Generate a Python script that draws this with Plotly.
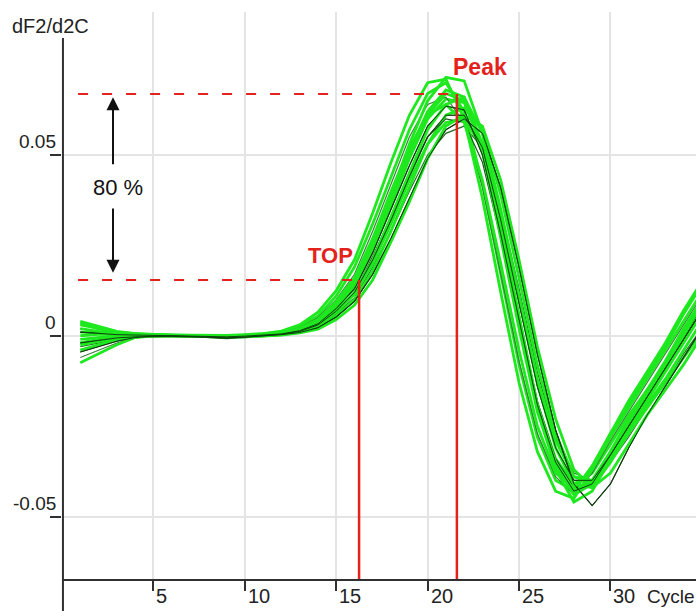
import plotly.graph_objects as go

cycles = list(range(1, 36))

bright_curves = [
    [0.001, 0.0008, 0.0005, 0.0003, 0.0002, 0.0001, 0.0, 0.0, -0.0002, 0.0, 0.0002, 0.0006, 0.0015, 0.0035, 0.008, 0.0135, 0.024, 0.036, 0.049, 0.060, 0.0655, 0.0645, 0.052, 0.029, 0.005, -0.019, -0.034, -0.041, -0.038, -0.030, -0.022, -0.015, -0.008, 0.000, 0.008],
    [0.003, 0.002, 0.001, 0.0005, 0.0003, 0.0002, 0.0001, 0.0, 0.0, 0.0002, 0.0005, 0.001, 0.0025, 0.0055, 0.011, 0.019, 0.031, 0.044, 0.057, 0.067, 0.070, 0.062, 0.042, 0.017, -0.008, -0.028, -0.040, -0.043, -0.036, -0.027, -0.019, -0.011, -0.003, 0.006, 0.014],
    [-0.002, -0.001, -0.0003, 0.0, 0.0001, 0.0, -0.0001, -0.0002, -0.0003, -0.0002, 0.0, 0.0003, 0.001, 0.0022, 0.0055, 0.010, 0.018, 0.029, 0.041, 0.053, 0.061, 0.063, 0.057, 0.039, 0.016, -0.008, -0.027, -0.039, -0.041, -0.035, -0.027, -0.019, -0.012, -0.004, 0.004],
    [-0.0075, -0.005, -0.0025, -0.0005, 0.0, 0.0, -0.0002, -0.0002, -0.0004, -0.0002, 0.0001, 0.0004, 0.0012, 0.0028, 0.0065, 0.0115, 0.020, 0.031, 0.043, 0.053, 0.059, 0.060, 0.052, 0.033, 0.011, -0.012, -0.029, -0.039, -0.040, -0.034, -0.027, -0.020, -0.013, -0.006, 0.001],
    [0.002, 0.0012, 0.0007, 0.0004, 0.0002, 0.0001, 0.0, 0.0001, 0.0, 0.0001, 0.0003, 0.0007, 0.0018, 0.004, 0.0088, 0.0148, 0.026, 0.038, 0.051, 0.062, 0.068, 0.066, 0.053, 0.030, 0.005, -0.019, -0.035, -0.043, -0.040, -0.032, -0.023, -0.015, -0.007, 0.002, 0.010],
    [0.0035, 0.002, 0.001, 0.0005, 0.0002, 0.0001, 0.0, 0.0, -0.0001, 0.0001, 0.0004, 0.0008, 0.002, 0.0045, 0.0095, 0.016, 0.027, 0.040, 0.052, 0.061, 0.064, 0.059, 0.043, 0.020, -0.004, -0.025, -0.038, -0.042, -0.037, -0.028, -0.020, -0.012, -0.004, 0.004, 0.012],
    [-0.001, -0.0005, 0.0, 0.0002, 0.0002, 0.0001, 0.0, -0.0001, -0.0002, -0.0001, 0.0001, 0.0005, 0.0012, 0.003, 0.007, 0.012, 0.021, 0.033, 0.045, 0.057, 0.064, 0.066, 0.056, 0.035, 0.011, -0.013, -0.031, -0.041, -0.042, -0.035, -0.026, -0.018, -0.010, -0.002, 0.006],
    [-0.004, -0.0025, -0.001, -0.0003, 0.0, 0.0001, 0.0001, 0.0, -0.0001, 0.0, 0.0002, 0.0006, 0.0016, 0.0037, 0.0082, 0.014, 0.0245, 0.037, 0.050, 0.061, 0.067, 0.065, 0.051, 0.027, 0.002, -0.021, -0.036, -0.044, -0.041, -0.033, -0.024, -0.016, -0.008, 0.001, 0.009],
    [0.004, 0.0025, 0.0012, 0.0006, 0.0003, 0.0002, 0.0002, 0.0001, 0.0001, 0.0003, 0.0006, 0.0013, 0.003, 0.0065, 0.0125, 0.021, 0.034, 0.048, 0.061, 0.070, 0.071, 0.060, 0.038, 0.012, -0.013, -0.032, -0.043, -0.045, -0.037, -0.027, -0.018, -0.010, -0.002, 0.007, 0.015],
    [-0.0025, -0.0015, -0.0006, -0.0002, 0.0, -0.0001, -0.0002, -0.0003, -0.0004, -0.0003, -0.0001, 0.0002, 0.0008, 0.0018, 0.0045, 0.0085, 0.0155, 0.026, 0.037, 0.049, 0.058, 0.061, 0.058, 0.043, 0.021, -0.003, -0.023, -0.037, -0.042, -0.038, -0.030, -0.022, -0.015, -0.008, 0.000],
    [0.0, 0.0004, 0.0004, 0.0003, 0.0002, 0.0001, 0.0, 0.0, -0.0001, 0.0001, 0.0003, 0.0008, 0.0018, 0.004, 0.0088, 0.015, 0.026, 0.039, 0.053, 0.065, 0.0715, 0.0705, 0.056, 0.031, 0.005, -0.020, -0.037, -0.046, -0.043, -0.034, -0.025, -0.017, -0.009, 0.000, 0.009],
]

dark_curves = [
    [-0.0045, -0.003, -0.0015, -0.0005, -0.0001, 0.0, -0.0002, -0.0003, -0.0006, -0.0004, -0.0001, 0.0004, 0.0012, 0.003, 0.0068, 0.012, 0.021, 0.032, 0.044, 0.055, 0.061, 0.061, 0.052, 0.032, 0.009, -0.014, -0.031, -0.040, -0.040, -0.033, -0.025, -0.017, -0.009, -0.001, 0.007],
    [-0.003, -0.002, -0.001, -0.0004, -0.0002, -0.0001, -0.0002, -0.0004, -0.0008, -0.0005, -0.0002, 0.0002, 0.001, 0.0025, 0.006, 0.0105, 0.019, 0.029, 0.040, 0.050, 0.056, 0.058, 0.052, 0.035, 0.013, -0.010, -0.028, -0.038, -0.040, -0.035, -0.028, -0.020, -0.013, -0.005, 0.002],
    [0.001, 0.0006, 0.0003, 0.0002, 0.0001, 0.0, -0.0001, -0.0001, -0.0003, -0.0001, 0.0001, 0.0005, 0.0014, 0.0033, 0.0075, 0.013, 0.023, 0.035, 0.047, 0.058, 0.0635, 0.0625, 0.050, 0.028, 0.004, -0.019, -0.035, -0.043, -0.041, -0.033, -0.025, -0.017, -0.009, -0.001, 0.007],
    [-0.006, -0.004, -0.002, -0.0006, 0.0, 0.0001, 0.0001, 0.0001, 0.0, 0.0002, 0.0004, 0.0009, 0.0022, 0.005, 0.010, 0.017, 0.029, 0.042, 0.055, 0.064, 0.066, 0.059, 0.041, 0.017, -0.007, -0.027, -0.039, -0.044, -0.038, -0.029, -0.021, -0.013, -0.005, 0.003, 0.011],
    [0.002, 0.001, 0.0005, 0.0002, 0.0, -0.0001, -0.0002, -0.0002, -0.0005, -0.0003, 0.0, 0.0004, 0.0012, 0.003, 0.007, 0.012, 0.022, 0.033, 0.045, 0.055, 0.060, 0.059, 0.048, 0.027, 0.004, -0.018, -0.034, -0.042, -0.040, -0.032, -0.024, -0.016, -0.008, 0.000, 0.008],
    [-0.002, -0.0012, -0.0006, -0.0003, -0.0002, -0.0002, -0.0003, -0.0004, -0.0006, -0.0004, -0.0001, 0.0003, 0.0009, 0.0022, 0.0052, 0.0095, 0.017, 0.027, 0.038, 0.049, 0.057, 0.060, 0.056, 0.041, 0.019, -0.005, -0.026, -0.041, -0.047, -0.041, -0.031, -0.022, -0.014, -0.006, 0.002],
]

x_tick_vals = [5, 10, 15, 20, 25, 30]
x_tick_text = ["5", "10", "15", "20", "25", "30"]
y_tick_vals = [0.05, 0.0, -0.05]
y_tick_text = ["0.05", "0", "-0.05"]

x_range = [0, 34.68]
y_range = [-0.06729, 0.08956]

peak_cycle = 21.6
peak_value = 0.0669
top_cycle = 16.25
top_value = 0.0154
dash_start_cycle = 0.88
arrow_cycle = 2.79

RED = "#e3221c"
AXIS = "#303030"
GRID = "#e4e4e4"
FONT = "Liberation Sans, Arial, sans-serif"

fig = go.Figure()

dark_colors = ["#0e4a0e", "#2b6e2b", "#123f12", "#3c7d3c", "#1b5a1b", "#0b350b"]
order = []
for i in range(max(len(bright_curves), len(dark_curves))):
    if i < len(dark_curves):
        order.append(("d", i))
    if i < len(bright_curves):
        order.append(("b", i))

for kind, i in order:
    if kind == "b":
        fig.add_trace(go.Scatter(x=cycles, y=bright_curves[i], mode="lines",
                                 line=dict(color="#1ee81e", width=2.8),
                                 hoverinfo="skip", showlegend=False))
    else:
        fig.add_trace(go.Scatter(x=cycles, y=dark_curves[i], mode="lines",
                                 line=dict(color=dark_colors[i % len(dark_colors)], width=1.2),
                                 hoverinfo="skip", showlegend=False))

# a few dark curves redrawn on top so they show through the band
for i in (0, 2, 5):
    fig.add_trace(go.Scatter(x=cycles, y=dark_curves[i], mode="lines",
                             line=dict(color="#0f3f0f", width=1.0),
                             hoverinfo="skip", showlegend=False))

# red dashed guide lines
fig.add_shape(type="line", x0=dash_start_cycle, x1=peak_cycle - 0.3, y0=peak_value, y1=peak_value,
              line=dict(color=RED, width=2, dash="10px,14px"))
fig.add_shape(type="line", x0=dash_start_cycle, x1=top_cycle - 0.1, y0=top_value, y1=top_value,
              line=dict(color=RED, width=2, dash="10px,14px"))
# red vertical lines
fig.add_shape(type="line", x0=peak_cycle, x1=peak_cycle, y0=y_range[0], y1=peak_value,
              line=dict(color=RED, width=2.5))
fig.add_shape(type="line", x0=top_cycle, x1=top_cycle, y0=y_range[0], y1=top_value,
              line=dict(color=RED, width=2.5))

# y axis line (extends below the x axis)
fig.add_shape(type="line", xref="paper", yref="paper", x0=0.0015, x1=0.0015,
              y0=-32 / 567, y1=(579 - 38) / 567, line=dict(color=AXIS, width=2))

# arrows
fig.add_annotation(x=arrow_cycle, y=0.0660, ax=arrow_cycle, ay=0.0470, axref="x", ayref="y",
                   text="", showarrow=True, arrowhead=2, arrowsize=1.3, arrowwidth=2, arrowcolor="#111")
fig.add_annotation(x=arrow_cycle, y=0.0174, ax=arrow_cycle, ay=0.0356, axref="x", ayref="y",
                   text="", showarrow=True, arrowhead=2, arrowsize=1.3, arrowwidth=2, arrowcolor="#111")
fig.add_annotation(x=3.06, y=0.0409, text="80 %", showarrow=False,
                   font=dict(family=FONT, size=22, color="#111"))

fig.add_annotation(x=22.87, y=0.0743, text="<b>Peak</b>", showarrow=False,
                   font=dict(family=FONT, size=23, color=RED))
fig.add_annotation(x=14.66, y=0.0223, text="<b>TOP</b>", showarrow=False,
                   font=dict(family=FONT, size=22, color=RED))

# axis titles
fig.add_annotation(xref="paper", yref="paper", x=(10 - 62) / 634, y=(579 - 26) / 567,
                   xanchor="left", yanchor="middle", text="dF2/d2C", showarrow=False,
                   font=dict(family=FONT, size=20, color="#222"))
fig.add_annotation(xref="paper", yref="paper", x=(645 - 62) / 634, y=-(596 - 579) / 567,
                   xanchor="left", yanchor="middle", text="Cycle", showarrow=False,
                   font=dict(family=FONT, size=19, color="#222"))

# tick labels
for v, t in zip(x_tick_vals, x_tick_text):
    fig.add_annotation(x=v, xref="x", yref="paper", y=-(596 - 579) / 567, xanchor="left",
                       yanchor="middle", xshift=1, text=t, showarrow=False,
                       font=dict(family=FONT, size=20, color="#222"))
for v, t in zip(y_tick_vals, y_tick_text):
    fig.add_annotation(xref="paper", x=-4 / 634, y=v, yref="y", xanchor="right",
                       yanchor="bottom", yshift=1, text=t, showarrow=False,
                       font=dict(family=FONT, size=19, color="#222"))

fig.update_xaxes(range=x_range, tickvals=x_tick_vals, showticklabels=False,
                 ticks="outside", ticklen=10, tickwidth=2, tickcolor=AXIS,
                 showgrid=True, gridcolor=GRID, gridwidth=1.5, zeroline=False,
                 showline=True, linecolor=AXIS, linewidth=2, mirror=False)
fig.update_yaxes(range=y_range, tickvals=y_tick_vals, showticklabels=False,
                 ticks="outside", ticklen=11, tickwidth=2, tickcolor=AXIS,
                 showgrid=True, gridcolor=GRID, gridwidth=1.5, zeroline=False,
                 showline=False)

fig.update_layout(width=696, height=611, margin=dict(l=62, r=0, t=12, b=32),
                  plot_bgcolor="white", paper_bgcolor="white", showlegend=False,
                  hovermode=False)

fig.write_html("out.html", config={"displayModeBar": False},
               post_script="document.body.style.margin='0';document.body.style.overflow='hidden';")
